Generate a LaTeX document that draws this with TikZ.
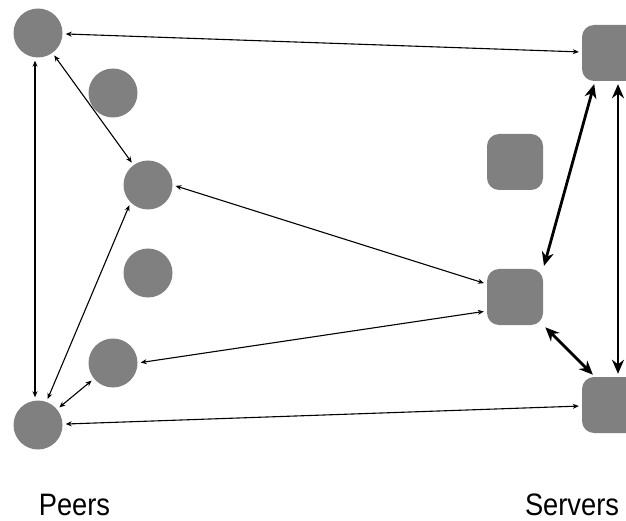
\documentclass[tikz,border=0pt]{standalone}
\usepackage{fontspec}
\setmainfont{Liberation Sans}[FakeStretch=0.88]
\usetikzlibrary{arrows.meta}
\definecolor{nodegray}{HTML}{808080}
\tikzset{
  peer/.style={circle, fill=nodegray, minimum size=49pt, inner sep=0pt},
  server/.style={rectangle, rounded corners=12pt, fill=nodegray, minimum size=56pt, inner sep=0pt},
  thinlink/.style={{Stealth[length=6pt,width=5pt]}-{Stealth[length=6pt,width=5pt]}, line width=1.1pt, black, shorten >=3pt, shorten <=3pt},
  thicklink/.style={{Stealth[length=14pt,width=12pt]}-{Stealth[length=14pt,width=12pt]}, line width=2.8pt, black, shorten >=3pt, shorten <=3pt},
  lbl/.style={anchor=base, font=\fontsize{31pt}{36pt}\selectfont, inner sep=0pt}
}
\begin{document}
\begin{tikzpicture}[x=1pt, y=-1pt]
\useasboundingbox (0,0) rectangle (626,521);
\clip (0,0) rectangle (626,521);
% peers
\node[peer] (P1) at (38,33) {};
\node[peer] (P2) at (113,93) {};
\node[peer] (P3) at (148,185) {};
\node[peer] (P4) at (148,273) {};
\node[peer] (P5) at (113,363) {};
\node[peer] (P6) at (38,425) {};
% servers
\node[server] (S1) at (610,53) {};
\node[server] (S2) at (515,162) {};
\node[server] (S3) at (515,297) {};
\node[server] (S4) at (610,405) {};
% labels
\node[lbl] (LP) at (74.5,515) {Peers};
\node[lbl] (LS) at (572,515) {Servers};
% thin links
\draw[thinlink] (P1) -- (S1);
\draw[thinlink] ([xshift=-3pt]P1.south) -- ([xshift=-3pt]P6.north);
\draw[thinlink] (P1) -- (P3);
\draw[thinlink] (P3.east) -- ([yshift=13pt]S3.west);
\draw[thinlink] (P3.225) -- (P6.70);
\draw[thinlink] (P5.east) -- ([yshift=-14pt]S3.west);
\draw[thinlink] (P5) -- (P6);
\draw[thinlink] (P6) -- (S4);
% thick links
\draw[thicklink] (S3.north east) -- ([xshift=-15pt]S1.south);
\draw[thicklink] ([xshift=8pt]S1.south) -- ([xshift=8pt]S4.north);
\draw[thicklink] (S3.south east) -- ([xshift=-15pt]S4.north);
\end{tikzpicture}
\end{document}
